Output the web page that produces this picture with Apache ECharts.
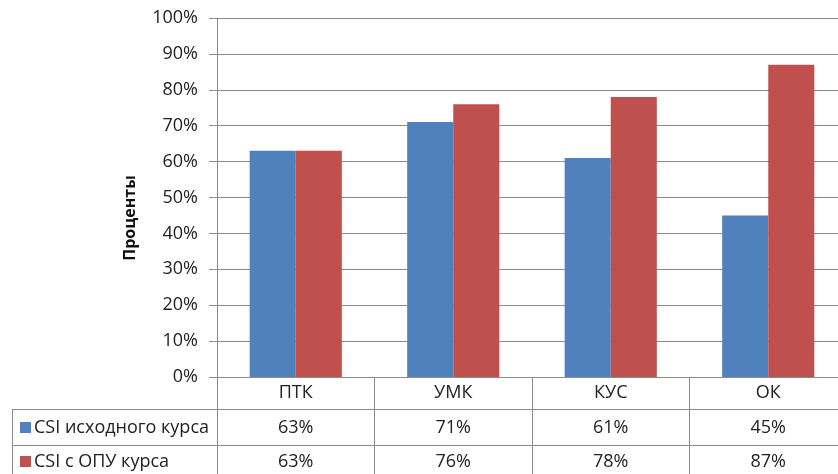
<!DOCTYPE html>
<html>
<head>
<meta charset="utf-8">
<script src="https://cdn.jsdelivr.net/npm/echarts@6/dist/echarts.min.js"></script>
<style>
  html, body { margin: 0; padding: 0; background: #fff; overflow: hidden; }
  /* чуть шире окна: правый край области построения уходит за кадр, как в оригинале */
  #main { width: 856px; height: 474px; }
</style>
</head>
<body>
<div id="main"></div>
<script>
// данные графика
var categories = ["ПТК", "УМК", "КУС", "ОК"];
var seriesNames = ["CSI исходного курса", "CSI с ОПУ курса"];
var csiBase = [63, 71, 61, 45];
var csiOpu = [63, 76, 78, 87];
var yTicks = [0, 100, 10]; // min, max, interval

var colors = ["#4F81BD", "#C0504D"];
var lineColor = "#8c8c8c";
var font = "Open Sans";
var fs = 18;

var myChart = echarts.init(document.getElementById("main"));

var option = {
  animation: false,
  textStyle: { fontFamily: font },
  grid: { left: 217, top: 18, height: 359, width: 630, containLabel: false },
  xAxis: {
    type: "category",
    data: categories,
    axisLine: { lineStyle: { color: lineColor, width: 1 } },
    axisTick: { show: true, length: 97, interval: 0, lineStyle: { color: lineColor } },
    axisLabel: { color: "#222", fontSize: fs, margin: 7, fontFamily: font }
  },
  yAxis: {
    type: "value",
    min: yTicks[0],
    max: yTicks[1],
    interval: yTicks[2],
    axisLine: { show: true, lineStyle: { color: lineColor } },
    axisTick: { show: true, length: 8, lineStyle: { color: lineColor } },
    axisLabel: { formatter: "{value}%", color: "#222", fontSize: fs, margin: 19, fontFamily: font },
    splitLine: { lineStyle: { color: lineColor } }
  },
  series: [
    { name: seriesNames[0], type: "bar", data: csiBase, barGap: "0%", barCategoryGap: "41.5%", itemStyle: { color: colors[0] } },
    { name: seriesNames[1], type: "bar", data: csiOpu, itemStyle: { color: colors[1] } }
  ]
};

myChart.setOption(option, true);

// подпись оси Y и таблица данных под осью
var rowsY = [428, 462];
var rows = [csiBase, csiOpu];
var g = [];
g.push({
  type: "text", x: 130, y: 218, rotation: Math.PI / 2,
  style: { text: "Проценты", font: "bold 16px '" + font + "'", fill: "#111", align: "center", textAlign: "center", verticalAlign: "middle", textVerticalAlign: "middle" }
});
g.push({ type: "line", shape: { x1: 12, y1: 409.5, x2: 856, y2: 409.5 }, style: { stroke: lineColor, lineWidth: 1 } });
g.push({ type: "line", shape: { x1: 12, y1: 445.5, x2: 856, y2: 445.5 }, style: { stroke: lineColor, lineWidth: 1 } });
g.push({ type: "line", shape: { x1: 12.5, y1: 409, x2: 12.5, y2: 474 }, style: { stroke: lineColor, lineWidth: 1 } });
rows.forEach(function (vals, r) {
  g.push({ type: "rect", shape: { x: 20, y: rowsY[r] - 6, width: 11, height: 11 }, style: { fill: colors[r] } });
  g.push({
    type: "text", x: 34, y: rowsY[r],
    style: { text: seriesNames[r], font: fs + "px '" + font + "'", fill: "#222", textVerticalAlign: "middle", verticalAlign: "middle" }
  });
  vals.forEach(function (v, i) {
    var px = myChart.convertToPixel({ xAxisIndex: 0 }, categories[i]);
    g.push({
      type: "text", x: px, y: rowsY[r],
      style: { text: v + "%", font: fs + "px '" + font + "'", fill: "#222", align: "center", textAlign: "center", verticalAlign: "middle", textVerticalAlign: "middle" }
    });
  });
});
myChart.setOption({ graphic: g });
</script>
</body>
</html>
